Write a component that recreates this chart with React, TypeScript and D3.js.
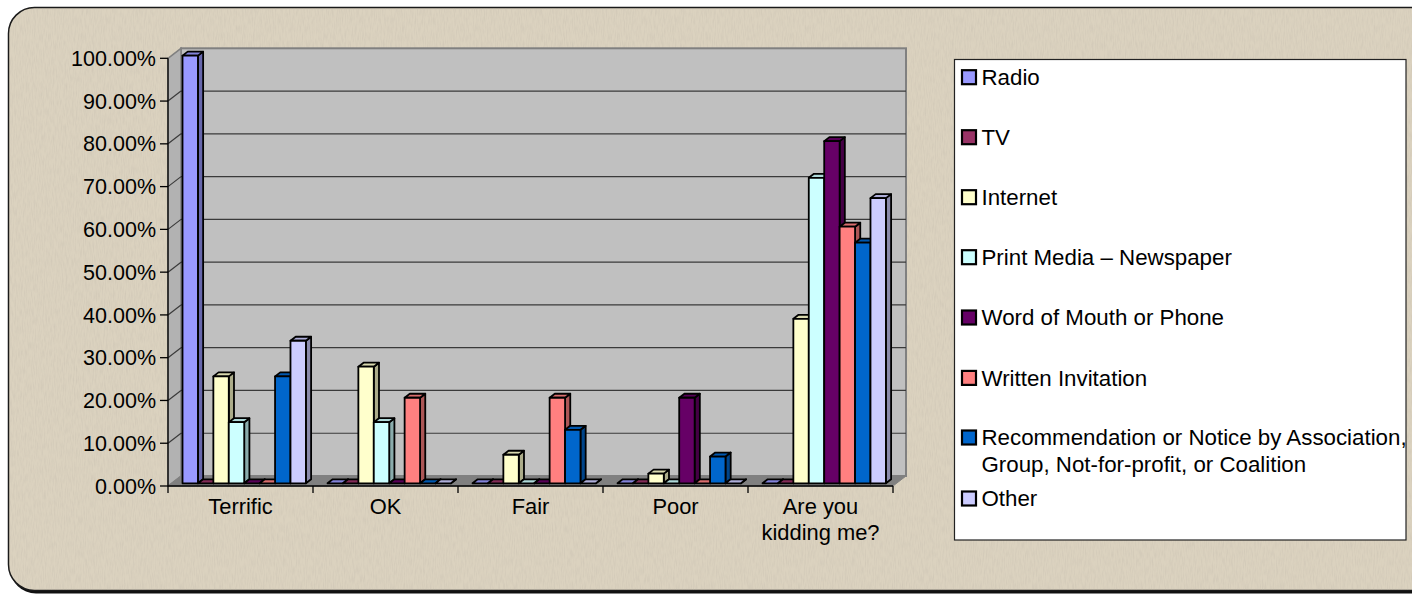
import React from "react";
import * as d3 from "d3";

const categories = ["Terrific", "OK", "Fair", "Poor", "Are you kidding me?"];
const categoryLines = [["Terrific"], ["OK"], ["Fair"], ["Poor"], ["Are you", "kidding me?"]];

const seriesNames = [
  "Radio",
  "TV",
  "Internet",
  "Print Media – Newspaper",
  "Word of Mouth or Phone",
  "Written Invitation",
  "Recommendation or Notice by Association,",
  "Other",
];
const legendSecondLine = ["", "", "", "", "", "", "Group, Not-for-profit, or Coalition", ""];
const seriesColors = ["#9999FF", "#993366", "#FFFFCC", "#CCFFFF", "#660066", "#FF8080", "#0066CC", "#CCCCFF"];

const radio = [100, 0, 0, 0, 0];
const tv = [0, 0, 0, 0, 0];
const internet = [25, 27.27, 6.67, 2.27, 38.46];
const printMedia = [14.29, 14.29, 0, 0, 71.43];
const wordOfMouth = [0, 0, 0, 20, 80];
const written = [0, 20, 20, 0, 60];
const recommendation = [25, 0, 12.5, 6.25, 56.25];
const other = [33.33, 0, 0, 0, 66.67];
const seriesValues = [radio, tv, internet, printMedia, wordOfMouth, written, recommendation, other];

const yTicks = [0, 10, 20, 30, 40, 50, 60, 70, 80, 90, 100];

const FONT = "'Liberation Sans', Arial, sans-serif";
const FS = 21.5;
const FSX = 21.9;
const FSL = 22.3;

export default function App() {
  // front plane geometry
  const x0 = 168, x1 = 893;
  const yF = d3.scaleLinear().domain([0, 100]).range([486, 58.3]);
  const DX = 13, DY = -10; // full depth offset
  const xCat = d3.scaleBand<string>().domain(categories).range([x0, x1]).paddingInner(0).paddingOuter(0);
  const step = xCat.bandwidth();
  const xSer = d3.scaleBand<string>().domain(seriesNames).range([11, step - 10.6]).padding(0);
  const bw = xSer.bandwidth();
  const bdx = DX * 0.27, bdy = DY * 0.27; // bar front plane
  const ddx = 5.2, ddy = -4; // bar depth

  const wallL = x0 + DX, wallR = x1 + DX;
  const wallT = yF(100) + DY, wallB = yF(0) + DY;

  const bars: React.ReactNode[] = [];
  categories.forEach((cat, ci) => {
    seriesNames.forEach((s, si) => {
      const v = seriesValues[si][ci];
      const c = d3.color(seriesColors[si])!;
      const side = d3.rgb(c).darker(1.1).formatHex();
      const top = d3.rgb(c).darker(0.45).formatHex();
      const bx = (xCat(cat) as number) + (xSer(s) as number) + bdx;
      const yTop = yF(v) + bdy;
      const yBase = yF(0) + bdy;
      const pts = (arr: number[][]) => arr.map((p) => p.join(",")).join(" ");
      bars.push(
        <g key={cat + s} stroke="#000" strokeWidth={1.8} strokeLinejoin="round">
          <polygon
            points={pts([[bx + bw, yTop], [bx + bw + ddx, yTop + ddy], [bx + bw + ddx, yBase + ddy], [bx + bw, yBase]])}
            fill={side}
          />
          <polygon
            points={pts([[bx, yTop], [bx + ddx, yTop + ddy], [bx + bw + ddx, yTop + ddy], [bx + bw, yTop]])}
            fill={top}
          />
          <rect x={bx} y={yTop} width={bw} height={Math.max(0, yBase - yTop)} fill={seriesColors[si]} />
        </g>
      );
    });
  });

  const legendX = 954.5, legendY = 59.5, legendW = 451.5, legendH = 480.5;
  const legendCenters = [77, 137, 197, 257, 317.3, 377.7, 437.3, 498.3];

  return (
    <div style={{ position: "absolute", left: 0, top: 0 }}>
      <svg width={1412} height={595} style={{ display: "block" }}>
        <defs>
          <filter id="linen" x="0" y="0" width="100%" height="100%">
            <feTurbulence type="fractalNoise" baseFrequency="0.9 0.12" numOctaves={2} seed={3} result="n" />
            <feColorMatrix
              in="n"
              type="matrix"
              values="0 0 0 0 0.55  0 0 0 0 0.5  0 0 0 0 0.42  0 0 0 -1.6 1.0"
              result="c"
            />
            <feComposite in="c" in2="SourceGraphic" operator="in" />
          </filter>
        </defs>
        {/* outer background */}
        <rect x={10} y={9.5} width={1430} height={584} rx={26} fill="#111" />
        <rect x={8.5} y={7.5} width={1430} height={583} rx={26} fill="#dbd2bf" stroke="#1a1a1a" strokeWidth={1.5} />
        <rect x={9.5} y={8.5} width={1428} height={581} rx={25} fill="#dbd2bf" filter="url(#linen)" opacity={0.45} />

        {/* back wall */}
        <rect x={wallL} y={wallT} width={wallR - wallL} height={wallB - wallT} fill="#c0c0c0" stroke="#808080" strokeWidth={2} />
        {/* side wall */}
        <polygon
          points={`${x0},${yF(100)} ${wallL},${wallT} ${wallL},${wallB} ${x0},${yF(0)}`}
          fill="#b2b2b2"
          stroke="#808080"
          strokeWidth={1.5}
        />
        {/* gridlines */}
        {yTicks.map((t) =>
          t > 0 && t < 100 ? (
            <g key={"g" + t}>
              <line x1={wallL} x2={wallR} y1={yF(t) + DY} y2={yF(t) + DY} stroke="#3a3a3a" strokeWidth={1.2} />
              <line x1={x0} x2={wallL} y1={yF(t)} y2={yF(t) + DY} stroke="#3a3a3a" strokeWidth={1.2} />
            </g>
          ) : null
        )}
        {/* floor */}
        <polygon
          points={`${x0},${yF(0)} ${x1},${yF(0)} ${wallR},${wallB} ${wallL},${wallB}`}
          fill="#808080"
          stroke="#808080"
          strokeWidth={1}
        />

        {bars}

        {/* axes */}
        <line x1={x0} x2={x0} y1={yF(100)} y2={yF(0) + 7} stroke="#000" strokeWidth={1.3} />
        <line x1={x0} x2={x1} y1={yF(0)} y2={yF(0)} stroke="#000" strokeWidth={1.3} />
        {yTicks.map((t) => (
          <g key={"t" + t}>
            <line x1={x0 - 8} x2={x0} y1={yF(t)} y2={yF(t)} stroke="#000" strokeWidth={1.3} />
            <text x={156} y={yF(t) + 7.6} textAnchor="end" fontFamily={FONT} fontSize={FS} fill="#000">
              {t.toFixed(2) + "%"}
            </text>
          </g>
        ))}
        {categories.map((c) => (
          <line
            key={"xt" + c}
            x1={(xCat(c) as number) + step}
            x2={(xCat(c) as number) + step}
            y1={yF(0)}
            y2={yF(0) + 7}
            stroke="#000"
            strokeWidth={1.3}
          />
        ))}
        {categories.map((c, i) =>
          categoryLines[i].map((line, li) => (
            <text
              key={"xl" + c + li}
              x={(xCat(c) as number) + step / 2}
              y={506 + 7.8 + li * 26}
              textAnchor="middle"
              fontFamily={FONT}
              fontSize={FSX}
              fill="#000"
            >
              {line}
            </text>
          ))
        )}

        {/* legend */}
        <rect x={legendX} y={legendY} width={legendW} height={legendH} fill="#fff" stroke="#222" strokeWidth={1.2} />
        {seriesNames.map((s, i) => (
          <g key={"lg" + s}>
            <rect x={962} y={legendCenters[i] - 6.8} width={14} height={14} fill={seriesColors[i]} stroke="#000" strokeWidth={2.2} />
            <text x={981.5} y={legendCenters[i] + 7.9} fontFamily={FONT} fontSize={FSL} fill="#000">
              {s}
            </text>
            {legendSecondLine[i] ? (
              <text x={981.5} y={legendCenters[i] + 27 + 7.9} fontFamily={FONT} fontSize={FSL} fill="#000">
                {legendSecondLine[i]}
              </text>
            ) : null}
          </g>
        ))}
      </svg>
    </div>
  );
}
